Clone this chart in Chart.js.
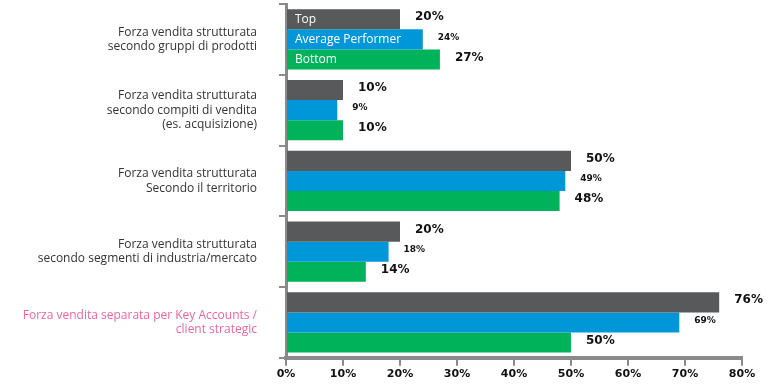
<!DOCTYPE html>
<html>
<head>
<meta charset="utf-8">
<script src="https://cdn.jsdelivr.net/npm/chart.js@4/dist/chart.umd.min.js"></script>
<style>
  html, body { margin: 0; padding: 0; background: #fff; }
  #wrap { width: 774px; height: 389px; }
</style>
</head>
<body>
<div id="wrap"><canvas id="chart" width="774" height="389"></canvas></div>
<script>
const categories = [
  ["Forza vendita strutturata", "secondo gruppi di prodotti"],
  ["Forza vendita strutturata", "secondo compiti di vendita", "(es. acquisizione)"],
  ["Forza vendita strutturata", "Secondo il territorio"],
  ["Forza vendita strutturata", "secondo segmenti di industria/mercato"],
  ["Forza vendita separata per Key Accounts /", "client strategic"]
];
const seriesNames = ["Top", "Average Performer", "Bottom"];
const topValues = [20, 10, 50, 20, 76];
const averageValues = [24, 9, 49, 18, 69];
const bottomValues = [27, 10, 48, 14, 50];
const xTicks = [0, 10, 20, 30, 40, 50, 60, 70, 80];

const colors = ["#58595b", "#0097d9", "#00b25a"];
const axisGray = "#8a8a8a";

// value labels at bar ends + series names inside first group
const barLabels = {
  id: "barLabels",
  afterDatasetsDraw(chart) {
    const ctx = chart.ctx;
    ctx.save();
    ctx.textBaseline = "middle";
    chart.data.datasets.forEach((ds, i) => {
      const meta = chart.getDatasetMeta(i);
      meta.data.forEach((bar, j) => {
        ctx.fillStyle = "#111";
        ctx.textAlign = "left";
        ctx.font = i === 1 ? "bold 9px 'DejaVu Sans'" : "bold 12px 'DejaVu Sans'";
        ctx.fillText(ds.data[j] + "%", bar.x + 15, bar.y - 2);
        if (j === 0) {
          ctx.fillStyle = "#fff";
          ctx.font = "12px 'Open Sans'";
          ctx.fillText(ds.label, bar.base + 8, bar.y);
        }
      });
    });
    ctx.restore();
  }
};

new Chart(document.getElementById("chart"), {
  type: "bar",
  data: {
    labels: categories,
    datasets: [
      { label: seriesNames[0], data: topValues, backgroundColor: colors[0] },
      { label: seriesNames[1], data: averageValues, backgroundColor: colors[1] },
      { label: seriesNames[2], data: bottomValues, backgroundColor: colors[2] }
    ]
  },
  options: {
    indexAxis: "y",
    responsive: false,
    animation: false,
    layout: { padding: { top: 4, right: 32, bottom: 6, left: 0 } },
    datasets: { bar: { categoryPercentage: 0.85, barPercentage: 1 } },
    plugins: { legend: { display: false }, tooltip: { enabled: false } },
    scales: {
      x: {
        min: 0, max: 80,
        afterBuildTicks(scale) { scale.ticks = xTicks.map(v => ({ value: v })); },
        border: { color: axisGray, width: 4 },
        grid: { drawOnChartArea: false, color: axisGray, lineWidth: 2, tickLength: 8 },
        ticks: {
          color: "#111",
          font: { family: "'DejaVu Sans'", size: 11, weight: "bold" },
          padding: 2,
          callback: v => v + "%"
        }
      },
      y: {
        afterFit(scale) {
          scale.width = 286;
          scale.paddingTop = 0;
          scale.paddingBottom = 0;
        },
        border: { color: axisGray, width: 3 },
        grid: { offset: true, drawOnChartArea: false, color: axisGray, lineWidth: 2, tickLength: 7 },
        ticks: {
          padding: 22,
          color: ctx => ctx.index === 4 ? "#e8679e" : "#333",
          font: { family: "'Open Sans'", size: 12 },
          lineHeight: 1.45
        }
      }
    }
  },
  plugins: [barLabels]
});
</script>
</body>
</html>
